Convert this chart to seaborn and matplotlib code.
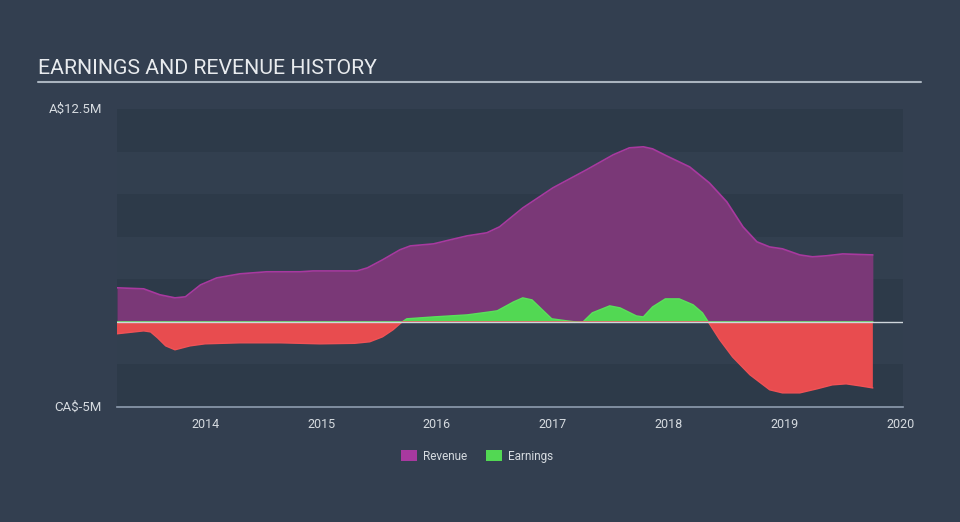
import matplotlib
matplotlib.use("Agg")
import matplotlib.pyplot as plt
import seaborn as sns
import numpy as np
import pandas as pd
from matplotlib.patches import Patch

# ---- data (values in millions) ----
rev_x = [2013.24, 2013.47, 2013.61, 2013.74, 2013.83, 2013.96, 2014.10, 2014.30, 2014.53,
         2014.82, 2014.93, 2015.10, 2015.31, 2015.40, 2015.53, 2015.68, 2015.77, 2015.97,
         2016.11, 2016.26, 2016.43, 2016.54, 2016.74, 2017.0, 2017.29, 2017.52, 2017.66,
         2017.78, 2017.86, 2017.98, 2018.18, 2018.35, 2018.50, 2018.64, 2018.76, 2018.87,
         2018.98, 2019.13, 2019.24, 2019.36, 2019.50, 2019.76]
rev_y = [2.0, 1.94, 1.59, 1.41, 1.47, 2.17, 2.58, 2.82, 2.94,
         2.94, 2.99, 2.99, 2.99, 3.17, 3.64, 4.23, 4.46, 4.58,
         4.81, 5.05, 5.23, 5.58, 6.69, 7.87, 8.93, 9.81, 10.22,
         10.28, 10.16, 9.75, 9.10, 8.16, 7.05, 5.58, 4.70, 4.40,
         4.29, 3.93, 3.82, 3.88, 3.99, 3.93]

earn_x = [2013.24, 2013.47, 2013.53, 2013.59, 2013.66, 2013.74, 2013.87, 2014.0, 2014.30,
          2014.65, 2014.99, 2015.29, 2015.42, 2015.53, 2015.62, 2015.70, 2015.74, 2015.97,
          2016.26, 2016.46, 2016.52, 2016.66, 2016.74, 2016.82, 2016.91, 2016.99, 2017.12,
          2017.19, 2017.26, 2017.34, 2017.49, 2017.58, 2017.72, 2017.78, 2017.86, 2017.97,
          2018.09, 2018.21, 2018.29, 2018.34, 2018.44, 2018.55, 2018.70, 2018.87, 2018.98,
          2019.13, 2019.28, 2019.41, 2019.53, 2019.65, 2019.76]
earn_y = [-0.70, -0.53, -0.59, -0.94, -1.41, -1.64, -1.41, -1.29, -1.23,
          -1.23, -1.29, -1.26, -1.17, -0.88, -0.47, 0.0, 0.18, 0.29,
          0.41, 0.59, 0.65, 1.17, 1.41, 1.29, 0.70, 0.18, 0.06,
          -0.03, 0.0, 0.53, 0.94, 0.82, 0.35, 0.29, 0.88, 1.35,
          1.35, 1.00, 0.53, 0.0, -1.06, -2.06, -3.11, -3.99, -4.17,
          -4.17, -3.93, -3.70, -3.64, -3.76, -3.88]

x_ticks = [2014, 2015, 2016, 2017, 2018, 2019, 2020]
y_labels = ["A$12.5M", "CA$-5M"]
series_names = ["Revenue", "Earnings"]

# ---- colours ----
BG = "#333f50"
BAND_D = "#2d3a49"
BAND_L = "#323f4f"
REV_FILL = "#7a3877"
REV_LINE = "#a8399f"
EARN_POS = "#52d853"
EARN_NEG = "#e84c4f"
TXT = "#d6dbe0"

sns.set_theme(style="dark")
plt.rcParams["font.family"] = ["Roboto", "DejaVu Sans"]

fig = plt.figure(figsize=(9.6, 5.22), dpi=100, facecolor=BG)
ax = fig.add_axes([117/960, 1-407/522, (903-117)/960, (407-109)/522])
ax.set_facecolor(BAND_L)
ax.set_xlim(2013.24, 2020.02)
ax.set_ylim(-5, 12.5)

# horizontal bands
edges = np.arange(-5, 12.51, 2.5)
for i in range(len(edges)-1):
    ax.axhspan(edges[i], edges[i+1], color=BAND_D if i % 2 == 0 else BAND_L, lw=0, zorder=0)

rev = pd.DataFrame({"x": rev_x, "y": rev_y})
earn = pd.DataFrame({"x": earn_x, "y": earn_y})

ax.fill_between(rev.x, 0, rev.y, color=REV_FILL, lw=0, zorder=2)
sns.lineplot(data=rev, x="x", y="y", ax=ax, color=REV_LINE, lw=1.2, zorder=3)

ey = np.array(earn_y)
ax.fill_between(earn.x, 0, ey, where=ey >= 0, interpolate=True, color=EARN_POS, lw=0, zorder=4)
ax.fill_between(earn.x, 0, ey, where=ey <= 0, interpolate=True, color=EARN_NEG, lw=0, zorder=4)
pos = np.clip(ey, 0, None)
neg = np.clip(ey, None, 0)
ax.plot(earn.x, pos, color="#5ae05b", lw=1.0, zorder=5)
ax.plot(earn.x, neg, color="#f05256", lw=1.0, zorder=5)

ax.axhline(0, color="#cfd6dc", lw=1.0, zorder=6)

# axes styling
for s in ["top", "right", "left"]:
    ax.spines[s].set_visible(False)
ax.spines["bottom"].set_color("#8e9cae")
ax.spines["bottom"].set_linewidth(1.2)
ax.set_xticks(x_ticks)
ax.set_xticklabels([str(t) for t in x_ticks], color=TXT, fontsize=9)
ax.tick_params(axis="x", colors="#8e9cae", length=5, width=1, direction="out", labelcolor=TXT, pad=3)
ax.set_yticks([])
ax.set_xlabel("")
ax.set_ylabel("")
ax.grid(False)

fig.text(102/960, 1-109/522, y_labels[0], ha="right", va="center", color=TXT, fontsize=9.5)
fig.text(102/960, 1-407/522, y_labels[1], ha="right", va="center", color=TXT, fontsize=9.5)

# title + underline
fig.text(38/960, 1-69/522, "EARNINGS AND REVENUE HISTORY", ha="left", va="center",
         color="#e8ebee", fontsize=15.3)
fig.add_artist(plt.Line2D([38/960, 921/960], [1-82/522, 1-82/522], color="#aab4bf", lw=1.5))

handles = [Patch(facecolor=REV_LINE, edgecolor="none", label=series_names[0]),
           Patch(facecolor=EARN_POS, edgecolor="none", label=series_names[1])]
fig.legend(handles=handles, loc="center", bbox_to_anchor=(477/960, 1-456/522), ncol=2,
           frameon=False, fontsize=8.5, labelcolor=TXT, handlelength=1.4, handleheight=1.0,
           columnspacing=1.6, handletextpad=0.5)

fig.savefig("out.png", dpi=100, facecolor=BG)
